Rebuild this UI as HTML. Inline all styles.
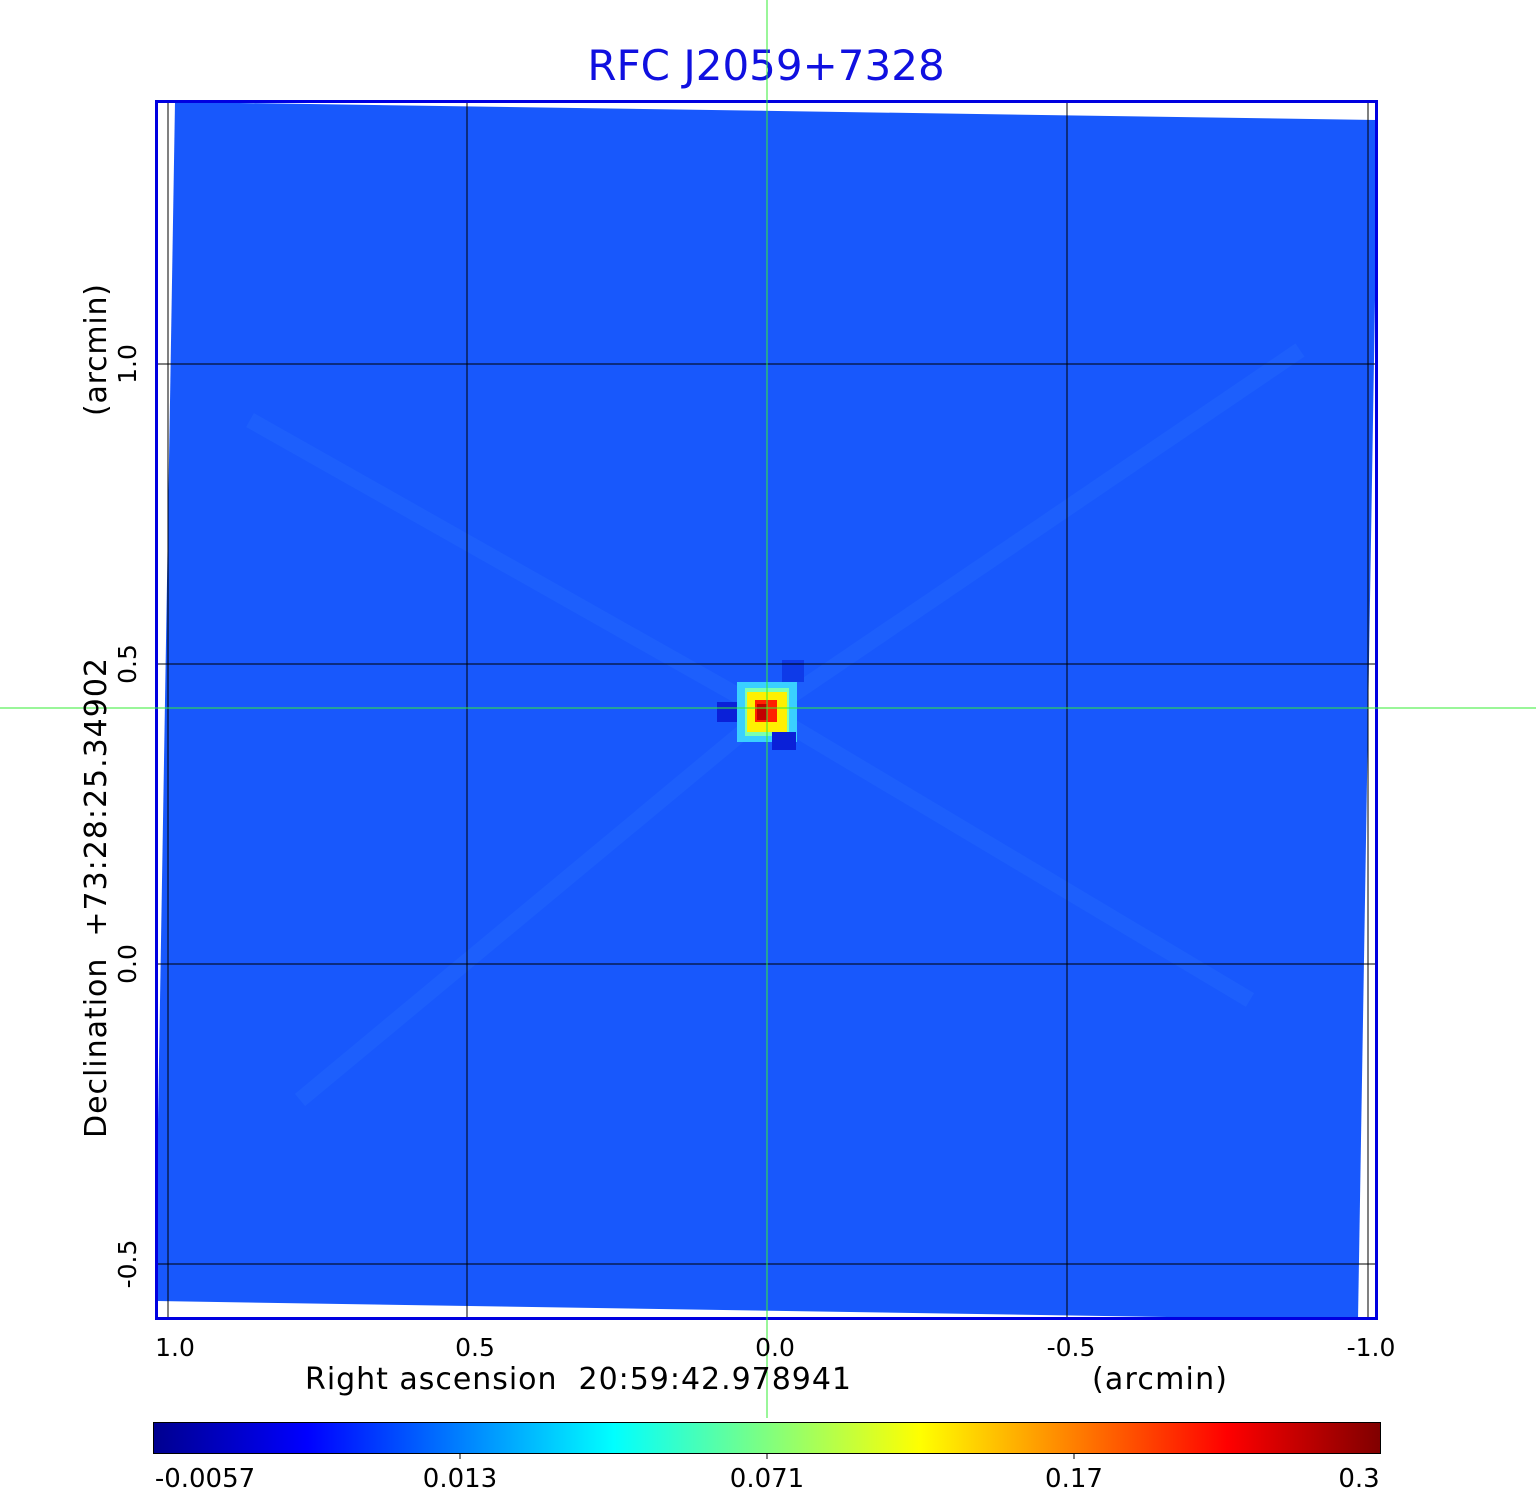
<!DOCTYPE html>
<html><head><meta charset="utf-8"><style>body{margin:0;background:#fff}svg{display:block}text{font-family:"DejaVu Sans","Liberation Sans",sans-serif;white-space:pre}</style></head>
<body>
<svg width="1536" height="1511" viewBox="0 0 1536 1511" xmlns="http://www.w3.org/2000/svg" xml:space="preserve">
<defs>
<linearGradient id="jet" x1="0" x2="1" y1="0" y2="0">
<stop offset="0" stop-color="#00008f"/>
<stop offset="0.125" stop-color="#0000ff"/>
<stop offset="0.375" stop-color="#00ffff"/>
<stop offset="0.625" stop-color="#ffff00"/>
<stop offset="0.875" stop-color="#ff0000"/>
<stop offset="1" stop-color="#800000"/>
</linearGradient>
<clipPath id="fr"><rect x="157" y="102" width="1219" height="1216"/></clipPath>
</defs>
<text x="766" y="80" font-size="42" fill="#1010e0" text-anchor="middle">RFC J2059+7328</text>
<g clip-path="url(#fr)">
<polygon points="175,102 1378,120 1358,1320 155,1301" fill="#1858fc"/>
<g opacity="0.15" stroke="#3d8cff" stroke-width="16" fill="none">
<line x1="767" y1="712" x2="250" y2="420"/>
<line x1="767" y1="712" x2="1250" y2="1000"/>
<line x1="767" y1="712" x2="300" y2="1100"/>
<line x1="767" y1="712" x2="1300" y2="350"/>
</g>
<rect x="737" y="682" width="60" height="60" fill="#3ad0ff"/>
<rect x="745" y="688" width="44" height="48" fill="#7cffb0"/>
<rect x="747" y="692" width="40" height="40" fill="#fff000"/>
<rect x="755" y="700" width="22" height="22" fill="#ff2000"/>
<rect x="757" y="704" width="10" height="16" fill="#c00000"/>
<rect x="717" y="702" width="20" height="20" fill="#0a20d8"/>
<rect x="772" y="732" width="24" height="18" fill="#0a20d8"/>
<rect x="782" y="660" width="22" height="22" fill="#0e3ae8"/>
</g>
<g stroke="#000" stroke-width="1">
<line x1="168" y1="102" x2="168" y2="1318"/>
<line x1="467" y1="102" x2="467" y2="1318"/>
<line x1="1067" y1="102" x2="1067" y2="1318"/>
<line x1="1368" y1="102" x2="1368" y2="1318"/>
<line x1="157" y1="364" x2="1376" y2="364"/>
<line x1="157" y1="664" x2="1376" y2="664"/>
<line x1="157" y1="964" x2="1376" y2="964"/>
<line x1="157" y1="1264" x2="1376" y2="1264"/>
</g>
<rect x="156.5" y="101.5" width="1220" height="1217" fill="none" stroke="#0000e0" stroke-width="3"/>
<g stroke="#33ee33" stroke-width="1">
<line x1="767" y1="0" x2="767" y2="1418"/>
<line x1="0" y1="708" x2="1536" y2="708"/>
</g>
<g font-size="25" fill="#000" text-anchor="middle">
<text x="175" y="1356">1.0</text>
<text x="475" y="1356">0.5</text>
<text x="775" y="1356">0.0</text>
<text x="1071" y="1356">-0.5</text>
<text x="1371" y="1356">-1.0</text>
</g>
<text x="305" y="1389" font-size="30" fill="#000" textLength="546">Right ascension  20:59:42.978941</text>
<text x="1092" y="1389" font-size="30" fill="#000" textLength="135">(arcmin)</text>
<g font-size="25" fill="#000" text-anchor="middle">
<text transform="translate(136,364) rotate(-90)">1.0</text>
<text transform="translate(136,664) rotate(-90)">0.5</text>
<text transform="translate(136,964) rotate(-90)">0.0</text>
<text transform="translate(136,1264) rotate(-90)">-0.5</text>
</g>
<text transform="translate(106,1138) rotate(-90)" font-size="30" fill="#000" textLength="480">Declination  +73:28:25.34902</text>
<text transform="translate(106,416) rotate(-90)" font-size="30" fill="#000" textLength="132">(arcmin)</text>
<rect x="153.5" y="1422.5" width="1227" height="31" fill="url(#jet)" stroke="#000" stroke-width="1"/>
<g stroke="#000"><line x1="460" y1="1453" x2="460" y2="1459"/><line x1="767" y1="1453" x2="767" y2="1459"/><line x1="1074" y1="1453" x2="1074" y2="1459"/></g>
<g font-size="26" fill="#000" text-anchor="middle">
<text x="205" y="1487">-0.0057</text>
<text x="460" y="1487">0.013</text>
<text x="767" y="1487">0.071</text>
<text x="1074" y="1487">0.17</text>
<text x="1359" y="1487">0.3</text>
</g>
</svg>
</body></html>
